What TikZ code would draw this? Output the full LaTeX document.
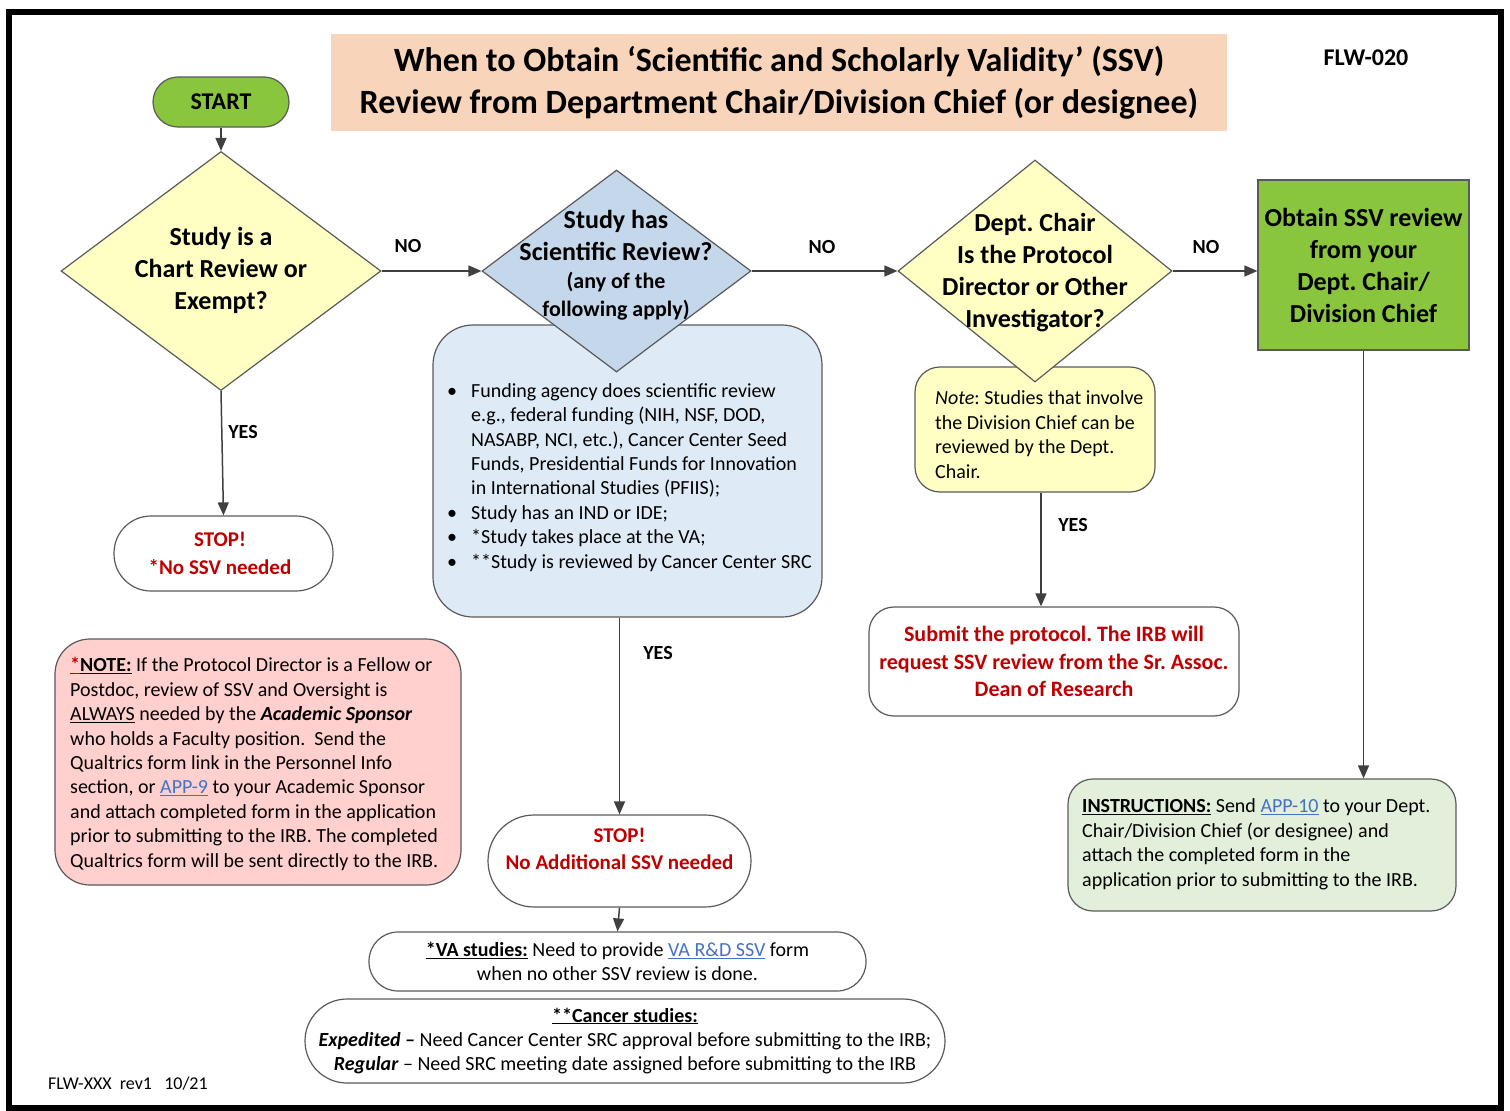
\documentclass[tikz,border=0pt]{standalone}
\usepackage{fontspec}
\setmainfont{Carlito}
\usetikzlibrary{shapes.geometric,arrows.meta}
\definecolor{mypeach}{RGB}{248,213,186}
\definecolor{mygreen}{RGB}{138,197,62}
\definecolor{myyellow}{RGB}{255,255,196}
\definecolor{mysteel}{RGB}{197,215,234}
\definecolor{mypaleblue}{RGB}{222,234,246}
\definecolor{mypink}{RGB}{255,208,205}
\definecolor{mypalegreen}{RGB}{226,239,218}
\definecolor{myred}{RGB}{192,0,0}
\definecolor{mylink}{RGB}{68,114,196}
\definecolor{myline}{RGB}{90,90,90}
\frenchspacing
\tikzset{
  box/.style={draw=myline, line width=1.2pt, inner sep=2pt, align=center},
  dia/.style={diamond, draw=myline, line width=1.2pt, inner sep=0pt},
  arr/.style={-{Triangle[length=13pt,width=11pt]}, draw=black!75, line width=1.5pt},
  lbl/.style={font=\fontsize{20}{24}\selectfont\bfseries},
  body/.style={font=\fontsize{20}{24.4}\selectfont},
  para/.style={anchor=base west, inner sep=0pt, align=left, body},
  big/.style={font=\fontsize{26}{32}\selectfont\bfseries, align=center},
  stoptext/.style={font=\fontsize{21}{27.5}\selectfont\bfseries, text=myred, align=center}
}
\begin{document}
\begin{tikzpicture}[x=1pt,y=-1pt]
  \useasboundingbox (0,0) rectangle (1510,1111);
  \draw[line width=6pt] (8.5,12) rectangle (1501,1108);
  % title
  \node[fill=mypeach, minimum width=896pt, minimum height=97pt, inner sep=0pt, align=center,
        font=\fontsize{34}{42}\selectfont\bfseries] (title) at (779,82.5)
        {When to Obtain ‘Scientific and Scholarly Validity’ (SSV)\\Review from Department Chair/Division Chief (or designee)};
  \node[font=\fontsize{24}{28}\selectfont\bfseries] (code) at (1366,58) {FLW-020};
  % left column
  \node[box, fill=mygreen, rounded corners=25pt, minimum width=136pt, minimum height=50pt,
        font=\fontsize{24}{28}\selectfont\bfseries] (start) at (221,102) {START};
  \node[dia, fill=myyellow, minimum width=320pt, minimum height=239pt] (q1) at (221,271) {};
  \node[big, anchor=base] (q1t) at (221,309) {Study is a\\Chart Review or\\Exempt?};
  \node[box, fill=white, rounded corners=37pt, minimum width=219pt, minimum height=75pt] (stop1) at (223.5,553.5) {};
  \node[stoptext] (stop1t) at (220,553.5) {STOP!\\*No SSV needed};
  \node[box, fill=mypink, rounded corners=35pt, minimum width=406pt, minimum height=246pt] (sponsor) at (258,762) {};
  \node[para] (sponsort) at (70,867)
        {\textbf{\textcolor{myred}{\underline{*}}\underline{NOTE:}} If the Protocol Director is a Fellow or\\
         Postdoc, review of SSV and Oversight is\\
         \underline{ALWAYS} needed by the \textbf{\textit{Academic Sponsor}}\\
         who holds a Faculty position.\ \ Send the\\
         Qualtrics form link in the Personnel Info\\
         section, or \textcolor{mylink}{\underline{APP-9}} to your Academic Sponsor\\
         and attach completed form in the application\\
         prior to submitting to the IRB. The completed\\
         Qualtrics form will be sent directly to the IRB.};
  % middle column
  \node[box, fill=mypaleblue, rounded corners=40pt, minimum width=389pt, minimum height=292pt] (list) at (627.5,471) {};
  \node[para] (listt) at (447,568)
        {\begin{tabular}[b]{@{}p{24pt}@{}l@{}}
          \textbullet & Funding agency does scientific review\\
          & e.g., federal funding (NIH, NSF, DOD,\\
          & NASABP, NCI, etc.), Cancer Center Seed\\
          & Funds, Presidential Funds for Innovation\\
          & in International Studies (PFIIS);\\
          \textbullet & Study has an IND or IDE;\\
          \textbullet & *Study takes place at the VA;\\
          \textbullet & **Study is reviewed by Cancer Center SRC
         \end{tabular}};
  \node[dia, fill=mysteel, minimum width=269pt, minimum height=202pt] (q2) at (616.5,271) {};
  \node[big, anchor=base] (q2t) at (616,260) {Study has\\Scientific Review?};
  \node[anchor=base, align=center, font=\fontsize{22}{28}\selectfont\bfseries] (q2s) at (616,316) {(any of the\\following apply)};
  \node[box, fill=white, rounded corners=46pt, minimum width=263pt, minimum height=92pt] (stop2) at (619.5,861) {};
  \node[stoptext] (stop2t) at (619.5,849) {STOP!\\No Additional SSV needed};
  \node[box, fill=white, rounded corners=29pt, minimum width=497pt, minimum height=59pt, body] (va) at (617.5,961.5)
        {\textbf{\underline{*VA studies:}} Need to provide \textcolor{mylink}{\underline{VA R\&D SSV}} form\\when no other SSV review is done.};
  \node[box, fill=white, rounded corners=42pt, minimum width=640pt, minimum height=84pt, body] (cancer) at (625,1041)
        {\textbf{\underline{**Cancer studies:}}\\
         \textbf{\textit{Expedited –}} Need Cancer Center SRC approval before submitting to the IRB;\\
         \textbf{\textit{Regular}} – Need SRC meeting date assigned before submitting to the IRB};
  % right columns
  \node[box, fill=myyellow, rounded corners=25pt, minimum width=240pt, minimum height=125pt] (note) at (1035,429.5) {};
  \node[para] (notet) at (935,478)
        {\textit{Note}: Studies that involve\\the Division Chief can be\\reviewed by the Dept.\\Chair.};
  \node[dia, fill=myyellow, minimum width=274pt, minimum height=222pt] (q3) at (1035,271) {};
  \node[big, anchor=base] (q3t) at (1035,327) {Dept. Chair\\Is the Protocol\\Director or Other\\Investigator?};
  \node[box, fill=white, rounded corners=25pt, minimum width=370pt, minimum height=109pt,
        font=\fontsize{22}{27.5}\selectfont\bfseries, text=myred] (submit) at (1054,661.5)
        {Submit the protocol. The IRB will\\request SSV review from the Sr. Assoc.\\Dean of Research};
  \node[box, fill=mygreen, minimum width=211pt, minimum height=170pt, big] (obtain) at (1363.5,265)
        {Obtain SSV review\\from your\\Dept. Chair/\\Division Chief};
  \node[box, fill=mypalegreen, rounded corners=25pt, minimum width=388pt, minimum height=132pt] (instr) at (1262,845) {};
  \node[para] (instrt) at (1082,886)
        {\textbf{\underline{INSTRUCTIONS:}} Send \textcolor{mylink}{\underline{APP-10}} to your Dept.\\
         Chair/Division Chief (or designee) and\\
         attach the completed form in the\\
         application prior to submitting to the IRB.};
  % connectors
  \draw[arr] (start.south) -- (q1.north);
  \draw[arr] (q1.south) -- (stop1.north);
  \draw[arr] (q1.east) -- (q2.west);
  \draw[arr] (q2.east) -- (q3.west);
  \draw[arr] (q3.east) -- (q3.east -| obtain.west);
  \draw[arr] (stop2.north |- list.south) -- (stop2.north);
  \draw[arr] (stop2.south) -- (va.north);
  \draw[arr] ([xshift=6pt]note.south) -- ([xshift=-13pt]submit.north);
  \draw[arr] (obtain.south) -- (obtain.south |- instr.north);
  % labels
  \node[lbl] (no1) at (408,246) {NO};
  \node[lbl] (no2) at (822,247) {NO};
  \node[lbl] (no3) at (1206,247) {NO};
  \node[lbl] (yes1) at (243,432) {YES};
  \node[lbl] (yes2) at (658,653) {YES};
  \node[lbl] (yes3) at (1073,525) {YES};
  \node[anchor=base west, inner sep=0pt, font=\fontsize{18}{22}\selectfont] (footer) at (48,1089) {FLW-XXX\ \ rev1\ \ \ 10/21};
\end{tikzpicture}
\end{document}
